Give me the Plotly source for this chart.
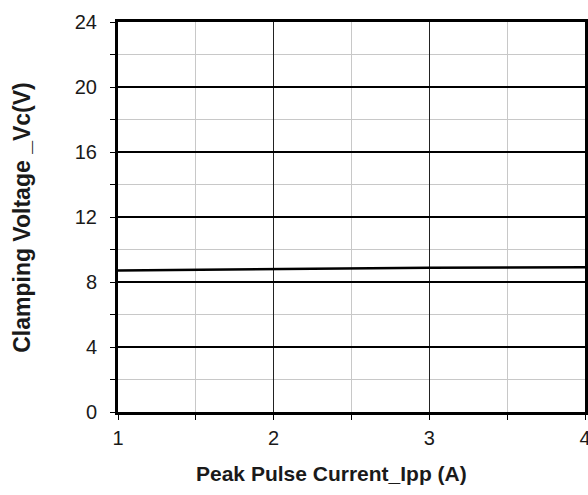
import plotly.graph_objects as go

current_a = [1, 2, 3, 4]
clamp_v = [8.71, 8.81, 8.87, 8.91]

x_title = "Peak Pulse Current_Ipp (A)"
y_title = "Clamping Voltage _Vc(V)"

fig = go.Figure()
fig.add_trace(go.Scatter(x=current_a, y=clamp_v, mode="lines",
                         line=dict(color="black", width=2.5), showlegend=False))

font_fam = "Liberation Sans, Arial, sans-serif"
txt = "#1a1a1a"
fig.update_layout(
    template="none",
    width=588, height=495,
    margin=dict(l=118, r=3, t=22, b=83),
    paper_bgcolor="white", plot_bgcolor="white",
    font=dict(family=font_fam, size=20, color=txt),
    xaxis=dict(range=[1, 4], dtick=1, tick0=1, showgrid=True, gridcolor="#222", gridwidth=1,
               ticks="outside", ticklen=5, tickcolor="black", tickwidth=1,
               minor=dict(dtick=0.5, showgrid=True, gridcolor="#c8c8c8", gridwidth=1,
                          ticks="outside", ticklen=5, tickcolor="black"),
               showline=True, linecolor="black", linewidth=3, mirror=True,
               zeroline=False, automargin=False, ticklabelstandoff=1,
               ticklabeloverflow="allow",
               tickfont=dict(size=20, color=txt)),
    yaxis=dict(range=[0, 24], dtick=4, tick0=0, showgrid=True, gridcolor="black", gridwidth=1.5,
               ticks="outside", ticklen=5, tickcolor="black", tickwidth=1,
               minor=dict(dtick=2, showgrid=True, gridcolor="#c8c8c8", gridwidth=1,
                          ticks="outside", ticklen=5, tickcolor="black"),
               showline=True, linecolor="black", linewidth=3, mirror=True,
               zeroline=False, automargin=False, ticklabelstandoff=9,
               ticklabeloverflow="allow",
               tickfont=dict(size=20, color=txt)),
    annotations=[
        dict(text="<b>" + x_title + "</b>", xref="paper", yref="paper", x=0.457, y=-0.158,
             xanchor="center", yanchor="middle", showarrow=False,
             font=dict(size=21, color=txt)),
        dict(text="<b>" + y_title + "</b>", xref="paper", yref="paper", x=-0.206, y=0.5,
             xanchor="center", yanchor="middle", showarrow=False, textangle=-90,
             font=dict(size=23, color=txt)),
    ],
)

fig.write_html("out.html", config={"displayModeBar": False},
               post_script="document.body.style.margin='0';document.body.style.overflow='hidden';")
